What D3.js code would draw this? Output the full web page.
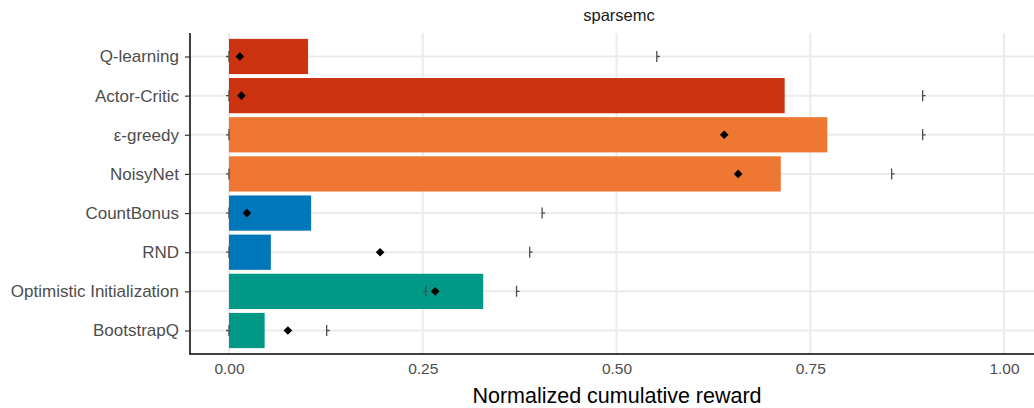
<!DOCTYPE html>
<html>
<head>
<meta charset="utf-8">
<script src="https://cdn.jsdelivr.net/npm/d3@7"></script>
<style>
  body { margin: 0; background: #fff; }
  text { font-family: "Liberation Sans", Arial, sans-serif; }
</style>
</head>
<body>
<svg id="chart" width="1034" height="408"></svg>
<script>
// chart values
const agents = ['Q-learning', 'Actor-Critic', 'ε-greedy', 'NoisyNet', 'CountBonus', 'RND', 'Optimistic Initialization', 'BootstrapQ'];
const groups = ['base', 'base', 'dither', 'dither', 'bonus', 'bonus', 'prior', 'prior'];
const meanReward = [0.102, 0.717, 0.772, 0.712, 0.106, 0.054, 0.328, 0.046];
const medianReward = [0.014, 0.016, 0.639, 0.657, 0.023, 0.195, 0.266, 0.076];
const minReward = [0.0, 0.0, 0.0, 0.0, 0.0, 0.0, 0.254, 0.0];
const maxReward = [0.552, 0.895, 0.895, 0.855, 0.404, 0.388, 0.371, 0.126];
const xTicks = [0, 0.25, 0.5, 0.75, 1];

const groupColour = {base: '#CC3311', dither: '#EE7733', bonus: '#0077BB', prior: '#009988'};

const rows = agents.map((name, i) => ({
  name: name, group: groups[i], mean: meanReward[i], median: medianReward[i],
  lo: minReward[i], hi: maxReward[i]
}));

const panel = {left: 190, right: 1034, top: 33, bottom: 354};
const svg = d3.select('#chart');

const x = d3.scaleLinear().domain([0, 1]).range([229, 1004]);
// ggplot-style discrete axis with 0.6 expansion either side
const step = (panel.bottom - panel.top) / (agents.length - 1 + 1.2);
const y = d3.scalePoint().domain(agents)
  .range([panel.top + 0.6 * step, panel.bottom - 0.6 * step]);
const barH = step * 0.9;

// grid
svg.append('g').selectAll('line.v').data(xTicks).enter().append('line')
  .attr('x1', d => x(d)).attr('x2', d => x(d))
  .attr('y1', panel.top).attr('y2', panel.bottom)
  .attr('stroke', '#EBEBEB').attr('stroke-width', 2);
svg.append('g').selectAll('line.h').data(agents).enter().append('line')
  .attr('x1', panel.left).attr('x2', panel.right)
  .attr('y1', d => y(d)).attr('y2', d => y(d))
  .attr('stroke', '#EBEBEB').attr('stroke-width', 2);

// bars
svg.append('g').selectAll('rect').data(rows).enter().append('rect')
  .attr('x', x(0))
  .attr('y', d => y(d.name) - barH / 2)
  .attr('width', d => x(d.mean) - x(0))
  .attr('height', barH)
  .attr('fill', d => groupColour[d.group]);

// range markers: -| at min, |- at max
const marks = svg.append('g').attr('stroke', '#4D4D4D').attr('stroke-width', 1.3).attr('fill', 'none');
marks.selectAll('path.lo').data(rows).enter().append('path')
  .attr('d', d => { const px = x(d.lo), py = y(d.name); return `M${px},${py - 5.5}V${py + 5.5}M${px - 3},${py}H${px}`; });
marks.selectAll('path.hi').data(rows).enter().append('path')
  .attr('d', d => { const px = x(d.hi), py = y(d.name); return `M${px},${py - 5.5}V${py + 5.5}M${px},${py}H${px + 3}`; });

// median diamonds
svg.append('g').selectAll('path').data(rows).enter().append('path')
  .attr('transform', d => `translate(${x(d.median)},${y(d.name)})`)
  .attr('d', d3.symbol(d3.symbolDiamond2, 48)())
  .attr('fill', '#000');

// axes
svg.append('line').attr('x1', panel.left).attr('x2', panel.left)
  .attr('y1', panel.top).attr('y2', panel.bottom + 0.5)
  .attr('stroke', '#000').attr('stroke-width', 1.5);
svg.append('line').attr('x1', panel.left - 0.5).attr('x2', panel.right)
  .attr('y1', panel.bottom).attr('y2', panel.bottom)
  .attr('stroke', '#000').attr('stroke-width', 1.5);

const yAxis = svg.append('g').attr('transform', `translate(${panel.left},0)`)
  .call(d3.axisLeft(y).tickSize(5).tickPadding(6));
yAxis.select('.domain').remove();
yAxis.selectAll('line').attr('stroke', '#333').attr('stroke-width', 1.2);
yAxis.selectAll('text').attr('fill', '#4D4D4D').attr('font-size', 17)
  .style('font-family', '"Liberation Sans", Arial, sans-serif');

const xAxis = svg.append('g').attr('transform', `translate(0,${panel.bottom})`)
  .call(d3.axisBottom(x).tickValues(xTicks).tickFormat(d3.format('.2f')).tickSize(0).tickPadding(9));
xAxis.select('.domain').remove();
xAxis.selectAll('text').attr('fill', '#4D4D4D').attr('font-size', 15.5)
  .style('font-family', '"Liberation Sans", Arial, sans-serif');

// titles
svg.append('text').attr('x', 619).attr('y', 21).attr('text-anchor', 'middle')
  .attr('font-size', 16.5).attr('fill', '#1A1A1A').text('sparsemc');
svg.append('text').attr('x', 617).attr('y', 403).attr('text-anchor', 'middle')
  .attr('font-size', 21.5).attr('fill', '#000').text('Normalized cumulative reward');
</script>
</body>
</html>
